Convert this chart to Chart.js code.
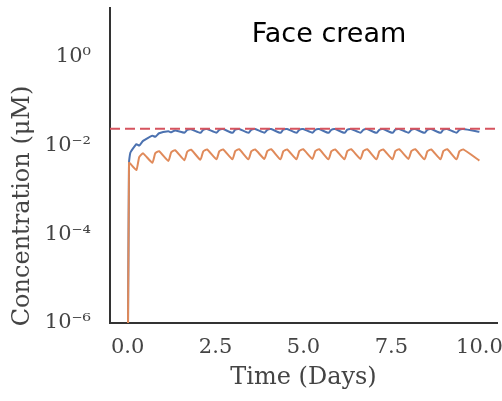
<!DOCTYPE html>
<html>
<head>
<meta charset="utf-8">
<script src="https://cdn.jsdelivr.net/npm/chart.js@4.4.1/dist/chart.umd.min.js"></script>
<style>
  html, body { margin: 0; padding: 0; background: #fff; }
  #wrap { width: 502px; height: 401px; position: relative; }
</style>
</head>
<body>
<div id="wrap"><canvas id="c"></canvas></div>
<script>
const titleText = 'Face cream';
const xTitle = 'Time (Days)';
const yTitle = 'Concentration (μM)';
const xTickValues = [0, 2.5, 5, 7.5, 10];
const xTickLabels = ['0.0', '2.5', '5.0', '7.5', '10.0'];
const yTickValues = [1e-6, 1e-4, 1e-2, 1];
const yTickLabels = ['10⁻⁶', '10⁻⁴', '10⁻²', '10⁰'];

const times = [0, 0.04, 0.08,
  0.25, 0.33, 0.44,
  0.705, 0.785, 0.895,
  1.16, 1.24, 1.35,
  1.615, 1.695, 1.805,
  2.07, 2.15, 2.26,
  2.525, 2.605, 2.715,
  2.98, 3.06, 3.17,
  3.435, 3.515, 3.625,
  3.89, 3.97, 4.08,
  4.345, 4.425, 4.535,
  4.8, 4.88, 4.99,
  5.255, 5.335, 5.445,
  5.71, 5.79, 5.9,
  6.165, 6.245, 6.355,
  6.62, 6.7, 6.81,
  7.075, 7.155, 7.265,
  7.53, 7.61, 7.72,
  7.985, 8.065, 8.175,
  8.44, 8.52, 8.63,
  8.895, 8.975, 9.085,
  9.35, 9.43, 9.54,
  10.0];

const blueValues = [1e-8, 0.0041, 0.0070,
  0.0108, 0.0100, 0.0128,
  0.0168, 0.0158, 0.0190,
  0.0210, 0.0200, 0.0220,
  0.0196, 0.0226, 0.0233,
  0.0194, 0.0228, 0.0236,
  0.0195, 0.0228, 0.0236,
  0.0194, 0.0229, 0.0237,
  0.0194, 0.0228, 0.0236,
  0.0195, 0.0228, 0.0236,
  0.0194, 0.0229, 0.0237,
  0.0194, 0.0228, 0.0236,
  0.0195, 0.0228, 0.0236,
  0.0194, 0.0228, 0.0236,
  0.0194, 0.0229, 0.0237,
  0.0195, 0.0228, 0.0236,
  0.0194, 0.0228, 0.0236,
  0.0194, 0.0229, 0.0237,
  0.0195, 0.0228, 0.0236,
  0.0194, 0.0228, 0.0236,
  0.0194, 0.0229, 0.0237,
  0.0195, 0.0228, 0.0236,
  0.0205];

const orangeValues = [1e-8, 0.0041, 0.0039,
  0.0028, 0.0055, 0.0067,
  0.0041, 0.0067, 0.0075,
  0.0045, 0.0071, 0.0079,
  0.0047, 0.0073, 0.0081,
  0.0048, 0.0074, 0.0082,
  0.0049, 0.0074, 0.0082,
  0.0049, 0.0075, 0.0083,
  0.0049, 0.0074, 0.0082,
  0.0050, 0.0075, 0.0083,
  0.0049, 0.0074, 0.0082,
  0.0049, 0.0075, 0.0083,
  0.0050, 0.0075, 0.0083,
  0.0049, 0.0074, 0.0082,
  0.0049, 0.0075, 0.0083,
  0.0050, 0.0075, 0.0083,
  0.0049, 0.0074, 0.0082,
  0.0049, 0.0075, 0.0083,
  0.0050, 0.0075, 0.0083,
  0.0049, 0.0074, 0.0082,
  0.0049, 0.0075, 0.0083,
  0.0049, 0.0074, 0.0082,
  0.0046];

const thresholdTimes = [-0.5, 10.5];
const thresholdValue = 0.024;

const toXY = (xs, ys) => xs.map((x, i) => ({ x: x, y: ys[i] }));

const overlayText = {
  id: 'overlayText',
  afterDraw(chart) {
    const ctx = chart.ctx;
    ctx.save();
    ctx.fillStyle = '#000000';
    ctx.font = '27px "DejaVu Sans"';
    ctx.textAlign = 'center';
    ctx.textBaseline = 'alphabetic';
    ctx.fillText(titleText, 329, 42);
    ctx.restore();

    ctx.save();
    ctx.fillStyle = '#444444';
    ctx.font = '24px "DejaVu Serif"';
    ctx.translate(23, 206);
    ctx.rotate(-Math.PI / 2);
    ctx.textAlign = 'center';
    ctx.textBaseline = 'middle';
    ctx.fillText(yTitle, 0, 0);
    ctx.restore();
  }
};

new Chart(document.getElementById('c'), {
  type: 'line',
  data: {
    datasets: [
      {
        label: 'threshold',
        data: toXY(thresholdTimes, thresholdTimes.map(() => thresholdValue)),
        borderColor: '#d6535e',
        borderWidth: 2,
        borderDash: [10, 5],
        pointRadius: 0,
        tension: 0
      },
      {
        label: 'orange',
        data: toXY(times, orangeValues),
        borderColor: '#e08a5a',
        borderWidth: 2,
        pointRadius: 0,
        tension: 0.15
      },
      {
        label: 'blue',
        data: toXY(times, blueValues),
        borderColor: '#4c72b0',
        borderWidth: 2,
        pointRadius: 0,
        tension: 0.15
      }
    ]
  },
  options: {
    responsive: true,
    maintainAspectRatio: false,
    animation: false,
    layout: { padding: { left: 0, right: 5, top: 8, bottom: 0 } },
    plugins: {
      legend: { display: false },
      tooltip: { enabled: false },
      title: { display: false }
    },
    scales: {
      x: {
        type: 'linear',
        min: -0.5,
        max: 10.5,
        grid: { display: false, drawTicks: false },
        border: { display: true, color: '#333333', width: 2 },
        afterBuildTicks(scale) { scale.ticks = xTickValues.map(v => ({ value: v })); },
        afterFit(scale) { scale.height = 78; scale.paddingLeft = 0; scale.paddingRight = 0; },
        ticks: {
          padding: 12,
          color: '#444444',
          font: { family: 'DejaVu Serif', size: 21 },
          maxRotation: 0,
          autoSkip: false,
          callback(value) {
            const i = xTickValues.indexOf(value);
            return i >= 0 ? xTickLabels[i] : '';
          }
        },
        title: {
          display: true,
          text: xTitle,
          color: '#444444',
          font: { family: 'DejaVu Serif', size: 24 },
          padding: { top: 0, bottom: 9 }
        }
      },
      y: {
        type: 'logarithmic',
        min: 1e-6,
        max: 12.7,
        grid: { display: false, drawTicks: false },
        border: { display: true, color: '#333333', width: 2 },
        afterBuildTicks(scale) { scale.ticks = yTickValues.map(v => ({ value: v })); },
        afterFit(scale) { scale.width = 110; scale.paddingTop = 0; scale.paddingBottom = 0; },
        ticks: {
          padding: 19,
          color: '#444444',
          font: { family: 'DejaVu Serif', size: 21 },
          autoSkip: false,
          callback(value) {
            const i = yTickValues.findIndex(v => Math.abs(Math.log10(v) - Math.log10(value)) < 1e-6);
            return i >= 0 ? yTickLabels[i] : '';
          }
        }
      }
    }
  },
  plugins: [overlayText]
});
</script>
</body>
</html>
